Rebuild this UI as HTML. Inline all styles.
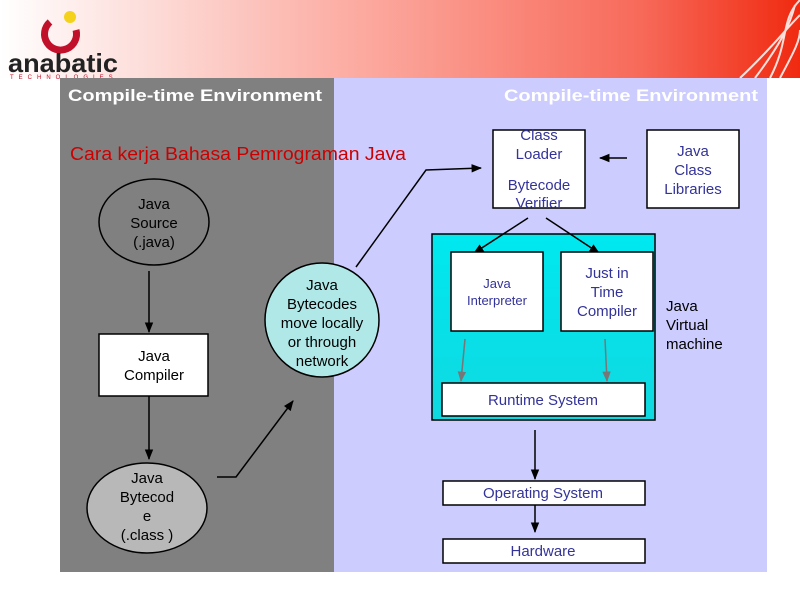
<!DOCTYPE html>
<html><head><meta charset="utf-8"><style>
html,body{margin:0;padding:0;background:#fff;}
svg{display:block;font-family:"Liberation Sans",sans-serif;}
</style></head><body>
<svg width="800" height="600" viewBox="0 0 800 600" xmlns="http://www.w3.org/2000/svg">
<defs>
<linearGradient id="hdr" x1="0" y1="0" x2="1" y2="0">
<stop offset="0" stop-color="#ffffff"/><stop offset="0.15" stop-color="#fde3e0"/><stop offset="0.45" stop-color="#fcaaa0"/><stop offset="0.8" stop-color="#f76a5a"/><stop offset="1" stop-color="#f02a10"/>
</linearGradient>
<linearGradient id="cy" x1="0" y1="0" x2="0" y2="1"><stop offset="0" stop-color="#00e8f0"/><stop offset="1" stop-color="#10d8e0"/></linearGradient>
<marker id="a" viewBox="0 0 10 10" refX="9" refY="5" markerWidth="7" markerHeight="7" orient="auto"><path d="M0,1 L10,5 L0,9z" fill="#000"/></marker>
<marker id="g" viewBox="0 0 10 10" refX="9" refY="5" markerWidth="7" markerHeight="7" orient="auto"><path d="M0,1 L10,5 L0,9z" fill="#777"/></marker>
</defs>
<rect x="0" y="0" width="800" height="78" fill="url(#hdr)"/>
<g stroke="#fff" stroke-width="2" fill="none" opacity="0.85">
<path d="M770,78 C790,40 780,20 800,0"/><path d="M755,78 C780,45 790,25 795,5"/><path d="M740,78 C770,50 785,30 800,15"/><path d="M780,78 C795,50 800,40 800,30"/>
</g>
<path d="M50,22 A16,16 0 1 0 76,30" stroke="#c0102a" stroke-width="7" fill="none"/>
<circle cx="70" cy="17" r="6" fill="#f4d11a"/>
<text x="8" y="72" font-size="26" font-weight="bold" fill="#222" textLength="110" lengthAdjust="spacingAndGlyphs">anabatic</text>
<text x="10" y="79" font-size="6" fill="#c0102a" letter-spacing="5">TECHNOLOGIES</text>
<rect x="60" y="78" width="274" height="494" fill="#808080"/>
<rect x="334" y="78" width="433" height="494" fill="#ccccff"/>
<text x="68" y="101" font-size="17" font-weight="bold" fill="#fff" textLength="254" lengthAdjust="spacingAndGlyphs">Compile-time Environment</text>
<text x="504" y="101" font-size="17" font-weight="bold" fill="#fff" textLength="254" lengthAdjust="spacingAndGlyphs">Compile-time Environment</text>
<text x="70" y="160" font-size="18" fill="#cc0000" textLength="336" lengthAdjust="spacingAndGlyphs">Cara kerja Bahasa Pemrograman Java</text>
<ellipse cx="154" cy="222" rx="55" ry="43" fill="#808080" stroke="#000" stroke-width="1.5"/>
<g font-size="15" fill="#000" text-anchor="middle">
<text x="154" y="209">Java</text><text x="154" y="228">Source</text><text x="154" y="247">(.java)</text>
</g>
<line x1="149" y1="271" x2="149" y2="332" stroke="#000" stroke-width="1.5" marker-end="url(#a)"/>
<rect x="99" y="334" width="109" height="62" fill="#fff" stroke="#000" stroke-width="1.5"/>
<g font-size="15" fill="#000" text-anchor="middle"><text x="154" y="361">Java</text><text x="154" y="380">Compiler</text></g>
<line x1="149" y1="396" x2="149" y2="459" stroke="#000" stroke-width="1.5" marker-end="url(#a)"/>
<ellipse cx="147" cy="508" rx="60" ry="45" fill="#b8b8b8" stroke="#000" stroke-width="1.5"/>
<g font-size="15" fill="#000" text-anchor="middle"><text x="147" y="483">Java</text><text x="147" y="502">Bytecod</text><text x="147" y="521">e</text><text x="147" y="540">(.class )</text></g>
<polyline points="217,477 236,477 293,401" fill="none" stroke="#000" stroke-width="1.5" marker-end="url(#a)"/>
<circle cx="322" cy="320" r="57" fill="#b0e8e8" stroke="#000" stroke-width="1.5"/>
<g font-size="15" fill="#000" text-anchor="middle"><text x="322" y="290">Java</text><text x="322" y="309">Bytecodes</text><text x="322" y="328">move locally</text><text x="322" y="347">or through</text><text x="322" y="366">network</text></g>
<polyline points="356,267 426,170 481,168" fill="none" stroke="#000" stroke-width="1.5" marker-end="url(#a)"/>
<rect x="493" y="130" width="92" height="78" fill="#fff" stroke="#000" stroke-width="1.5"/>
<g font-size="15" fill="#333399" text-anchor="middle"><text x="539" y="140">Class</text><text x="539" y="159">Loader</text><text x="539" y="190">Bytecode</text><text x="539" y="208">Verifier</text></g>
<rect x="647" y="130" width="92" height="78" fill="#fff" stroke="#000" stroke-width="1.5"/>
<g font-size="15" fill="#333399" text-anchor="middle"><text x="693" y="156">Java</text><text x="693" y="175">Class</text><text x="693" y="194">Libraries</text></g>
<line x1="627" y1="158" x2="600" y2="158" stroke="#000" stroke-width="1.5" marker-end="url(#a)"/>
<rect x="432" y="234" width="223" height="186" fill="url(#cy)" stroke="#000" stroke-width="1.5"/>
<line x1="528" y1="218" x2="474" y2="253" stroke="#000" stroke-width="1.5" marker-end="url(#a)"/>
<line x1="546" y1="218" x2="599" y2="253" stroke="#000" stroke-width="1.5" marker-end="url(#a)"/>
<rect x="451" y="252" width="92" height="79" fill="#fff" stroke="#000" stroke-width="1.5"/>
<g font-size="13" fill="#333399" text-anchor="middle"><text x="497" y="288">Java</text><text x="497" y="305">Interpreter</text></g>
<rect x="561" y="252" width="92" height="79" fill="#fff" stroke="#000" stroke-width="1.5"/>
<g font-size="15" fill="#333399" text-anchor="middle"><text x="607" y="278">Just in</text><text x="607" y="297">Time</text><text x="607" y="316">Compiler</text></g>
<line x1="465" y1="339" x2="461" y2="381" stroke="#777" stroke-width="1.5" marker-end="url(#g)"/>
<line x1="605" y1="339" x2="607" y2="381" stroke="#777" stroke-width="1.5" marker-end="url(#g)"/>
<rect x="442" y="383" width="203" height="33" fill="#fff" stroke="#000" stroke-width="1.5"/>
<text x="543" y="405" font-size="15" fill="#333399" text-anchor="middle">Runtime System</text>
<g font-size="15" fill="#000"><text x="666" y="311">Java</text><text x="666" y="330">Virtual</text><text x="666" y="349">machine</text></g>
<line x1="535" y1="430" x2="535" y2="479" stroke="#000" stroke-width="1.5" marker-end="url(#a)"/>
<rect x="443" y="481" width="202" height="24" fill="#fff" stroke="#000" stroke-width="1.5"/>
<text x="543" y="498" font-size="15" fill="#333399" text-anchor="middle">Operating System</text>
<line x1="535" y1="505" x2="535" y2="532" stroke="#000" stroke-width="1.5" marker-end="url(#a)"/>
<rect x="443" y="539" width="202" height="24" fill="#fff" stroke="#000" stroke-width="1.5"/>
<text x="543" y="556" font-size="15" fill="#333399" text-anchor="middle">Hardware</text>
</svg>
</body></html>
